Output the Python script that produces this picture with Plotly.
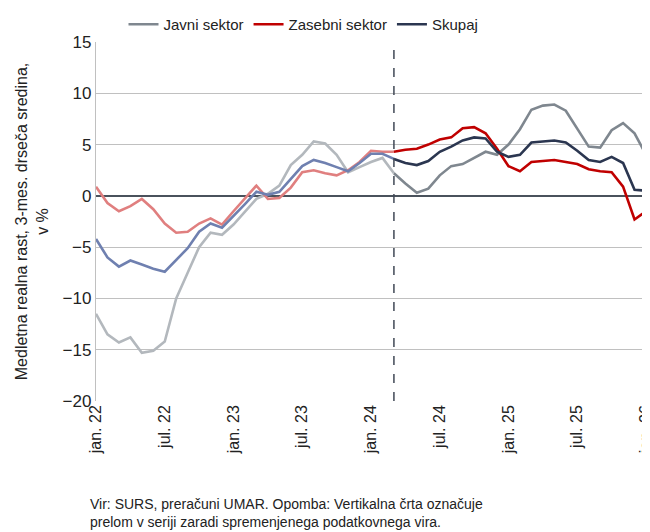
import plotly.graph_objects as go

months = list(range(49))
tick_vals = [0, 6, 12, 18, 24, 30, 36, 42, 48]
tick_text = ["jan. 22", "jul. 22", "jan. 23", "jul. 23", "jan. 24", "jul. 24", "jan. 25", "jul. 25", "jan. 26"]
break_idx = 26

javni = [-11.5, -13.5, -14.3, -13.8, -15.3, -15.1, -14.2, -10.0, -7.5, -5.0, -3.6, -3.8, -2.8,
         -1.5, -0.3, 0.2, 1.0, 3.0, 4.0, 5.3, 5.1, 4.0, 2.3, 2.8, 3.3, 3.7, 2.2, 1.2, 0.3,
         0.7, 2.0, 2.9, 3.1, 3.7, 4.3, 4.0, 5.0, 6.5, 8.4, 8.8, 8.9, 8.3, 6.5, 4.8, 4.7,
         6.4, 7.1, 6.1, 4.0]
zasebni = [0.9, -0.7, -1.5, -1.0, -0.3, -1.3, -2.7, -3.6, -3.5, -2.7, -2.2, -2.8, -1.5,
           -0.3, 1.0, -0.3, -0.2, 0.8, 2.3, 2.5, 2.2, 2.0, 2.5, 3.3, 4.4, 4.3, 4.3, 4.5, 4.6,
           5.0, 5.5, 5.7, 6.6, 6.7, 6.1, 4.6, 2.9, 2.4, 3.3, 3.4, 3.5, 3.3, 3.1, 2.6, 2.4,
           2.3, 0.9, -2.3, -1.5]
skupaj = [-4.2, -6.0, -6.9, -6.3, -6.7, -7.1, -7.4, -6.2, -5.1, -3.5, -2.7, -3.1, -2.0,
          -0.8, 0.4, 0.1, 0.4, 1.6, 2.9, 3.5, 3.2, 2.8, 2.4, 3.2, 4.1, 4.1, 3.6, 3.2, 3.0,
          3.4, 4.3, 4.8, 5.4, 5.7, 5.6, 4.3, 3.8, 4.0, 5.2, 5.3, 5.4, 5.2, 4.4, 3.5, 3.3,
          3.8, 3.2, 0.6, 0.5]

series = [
    ("Javni sektor", javni, "#7f878f", "#b3b8bd"),
    ("Zasebni sektor", zasebni, "#c00000", "#e07f7f"),
    ("Skupaj", skupaj, "#2b3650", "#6f80b0"),
]

fig = go.Figure()

# svetlejši del pred prelomom
for name, vals, dark, light in series:
    fig.add_trace(go.Scatter(x=months[:break_idx + 1], y=vals[:break_idx + 1], mode="lines",
                             line=dict(color=light, width=2.6), showlegend=False, hoverinfo="skip"))
for name, vals, dark, light in series:
    fig.add_trace(go.Scatter(x=months[break_idx:], y=vals[break_idx:], mode="lines", name=name,
                             line=dict(color=dark, width=2.6)))

fig.add_shape(type="line", x0=break_idx, x1=break_idx, y0=-20, y1=15, xref="x", yref="y",
              line=dict(color="#404855", width=1.5, dash="dash"))

fig.update_layout(
    width=650, height=532,
    margin=dict(l=88, r=12, t=34, b=139, autoexpand=False),
    plot_bgcolor="white", paper_bgcolor="white",
    font=dict(family="Liberation Sans, Arial, sans-serif", size=16, color="#222222"),
    legend=dict(orientation="h", x=0.05, y=1.0, xanchor="left", yanchor="top",
                xref="paper", yref="container",
                font=dict(size=15), traceorder="normal"),
    showlegend=True,
)
fig.update_xaxes(range=[0, 48], tickvals=tick_vals, ticktext=tick_text, tickangle=-90,
                 showgrid=False, zeroline=False, showline=False, ticks="", automargin=False,
                 tickfont=dict(size=16))
fig.update_yaxes(range=[-20, 15], dtick=5, showgrid=True, gridcolor="#c0c0c0", gridwidth=1.3,
                 zeroline=True, zerolinecolor="#4a525c", zerolinewidth=1.5,
                 showline=True, linecolor="#c0c0c0", linewidth=1.3, mirror=True, ticks="",
                 automargin=False, tickfont=dict(size=17),
                 title=dict(text="Medletna realna rast, 3-mes. drseča sredina,<br>v %", standoff=10,
                            font=dict(size=16)))

fig.add_annotation(text="Vir: SURS, preračuni UMAR. Opomba: Vertikalna črta označuje<br>"
                        "prelom v seriji zaradi spremenjenega podatkovnega vira.",
                   xref="paper", yref="paper", x=-0.015, y=-0.26, xanchor="left", yanchor="top",
                   showarrow=False, align="left", font=dict(size=14))

fig.write_html("out.html")
